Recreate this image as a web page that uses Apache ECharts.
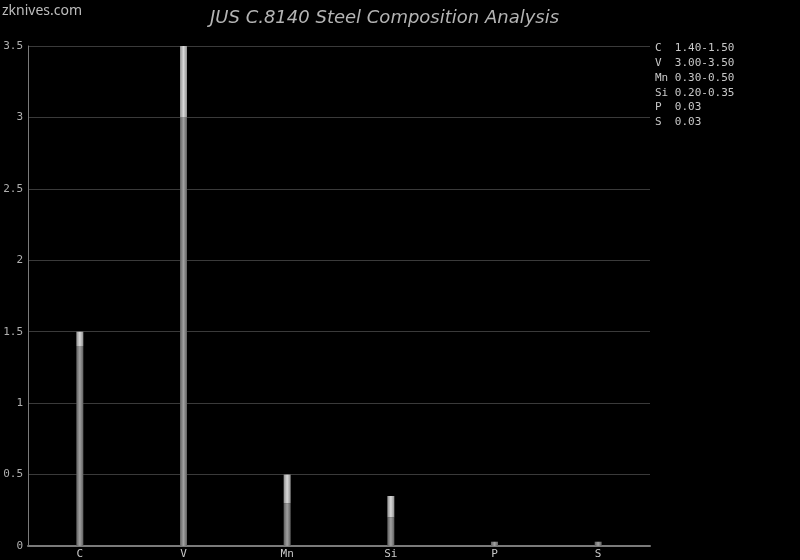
<!DOCTYPE html>
<html><head><meta charset="utf-8">
<script src="https://cdn.jsdelivr.net/npm/echarts@6/dist/echarts.min.js"></script>
<style>html,body{margin:0;padding:0;background:#000}#c{width:800px;height:560px}</style>
</head><body><div id="c"></div>
<script>
const categories = ['C', 'V', 'Mn', 'Si', 'P', 'S'];
const minValues = [1.40, 3.00, 0.30, 0.20, 0.03, 0.03];
const maxValues = [1.50, 3.50, 0.50, 0.35, 0.03, 0.03];
const rangeLabels = ['1.40-1.50', '3.00-3.50', '0.30-0.50', '0.20-0.35', '0.03', '0.03'];
const yTicks = [0, 0.5, 1, 1.5, 2, 2.5, 3, 3.5];

const rangeValues = maxValues.map((v, i) => +(v - minValues[i]).toFixed(4));

function grad(c1, c2) {
  return new echarts.graphic.LinearGradient(0, 0, 1, 0, [
    {offset: 0, color: c1}, {offset: 0.5, color: c2}, {offset: 1, color: c1}
  ]);
}

const legendText = categories.map((c, i) => (c + '  ').slice(0, 3) + rangeLabels[i]).join('\n');

const chart = echarts.init(document.getElementById('c'));
chart.setOption({
  backgroundColor: '#000',
  animation: false,
  title: {
    text: 'JUS C.8140 Steel Composition Analysis',
    left: 205, top: 4,
    textStyle: {color: '#b4b4b4', fontSize: 18, fontStyle: 'italic', fontWeight: 'normal', fontFamily: 'DejaVu Sans'}
  },
  graphic: [
    {type: 'text', left: 2, top: 4, style: {text: 'zknives.com', fill: '#bdbdbd', font: '14px "Noto Sans"'}},
    {type: 'text', left: 655, top: 41, style: {text: legendText, fill: '#c8c8c8', font: '11px "DejaVu Sans Mono"', lineHeight: 14.8}}
  ],
  grid: {left: 28, right: 150, top: 46, bottom: 14},
  xAxis: {
    type: 'category', data: categories,
    axisLine: {lineStyle: {color: '#7a7a7a', width: 2}},
    axisTick: {show: false},
    axisLabel: {color: '#c8c8c8', fontFamily: 'DejaVu Sans Mono', fontSize: 11, margin: 3}
  },
  yAxis: {
    type: 'value', min: 0, max: 3.5, interval: 0.5,
    axisLine: {show: true, lineStyle: {color: '#7a7a7a', width: 1}},
    axisTick: {show: false},
    splitLine: {lineStyle: {color: '#3a3a3a'}},
    axisLabel: {color: '#b0b0b0', fontFamily: 'DejaVu Sans Mono', fontSize: 11, margin: 5,
      formatter: v => yTicks.includes(v) ? String(v) : ''}
  },
  series: [
    {type: 'bar', stack: 'a', data: minValues, barWidth: 7,
      itemStyle: {color: grad('#606060', '#a0a0a0')}},
    {type: 'bar', stack: 'a', data: rangeValues, barWidth: 7,
      itemStyle: {color: grad('#909090', '#d8d8d8')}}
  ]
});
</script></body></html>
